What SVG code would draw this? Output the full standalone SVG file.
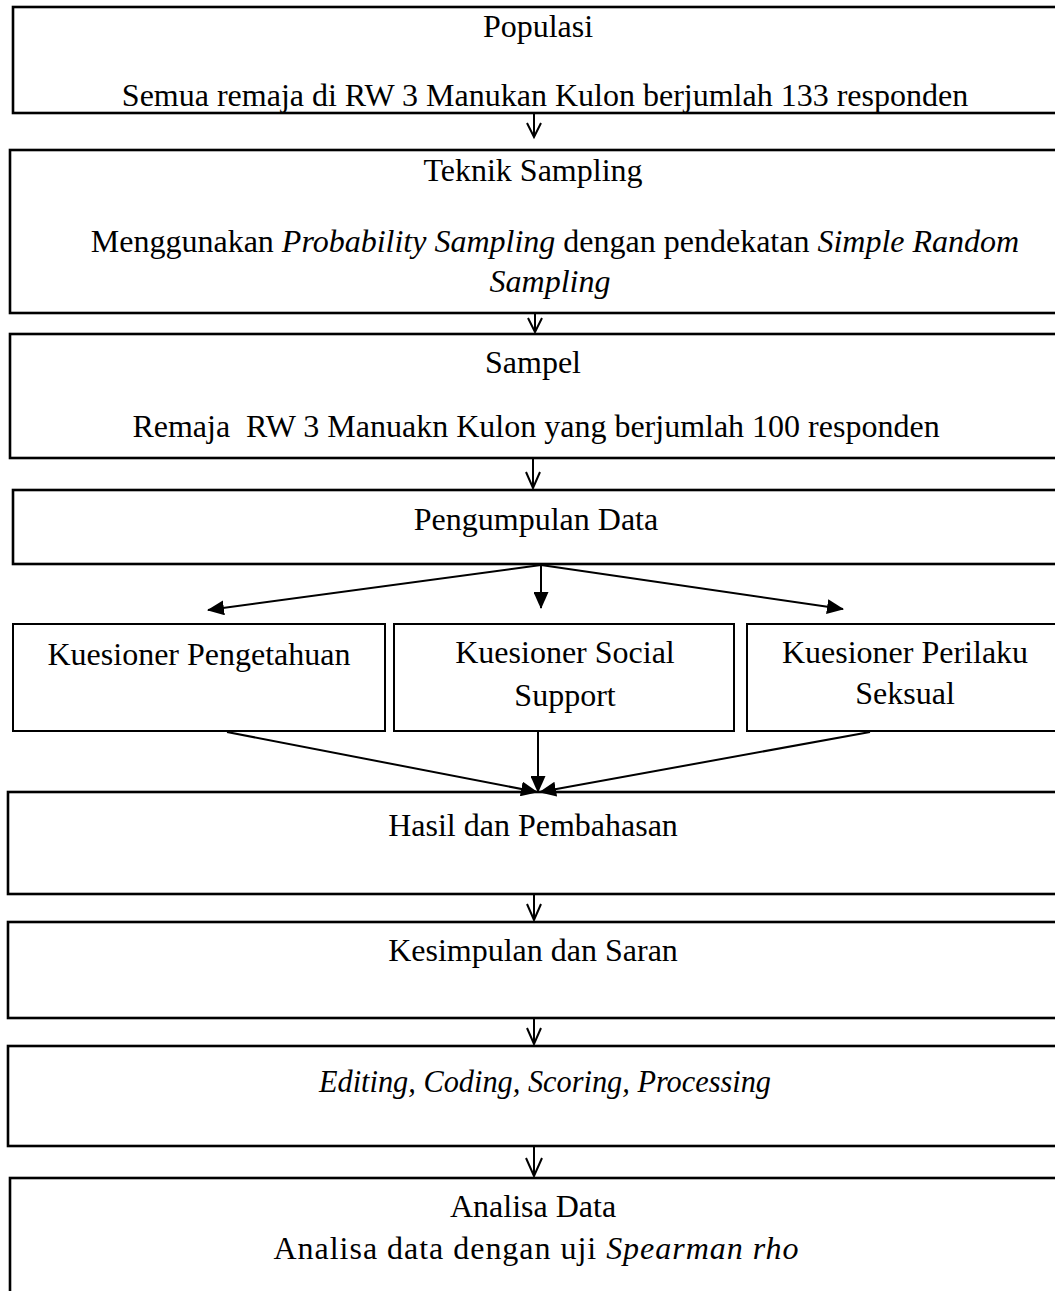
<svg xmlns="http://www.w3.org/2000/svg" width="1055" height="1291" viewBox="0 0 1055 1291">
<style>
.box{fill:#fff;stroke:#000;stroke-width:2.6}
.qbox{fill:#fff;stroke:#000;stroke-width:2}
text{font-family:"Liberation Serif","Times New Roman",serif;font-size:32px;fill:#000;text-anchor:middle;white-space:pre}
.i{font-style:italic}
.c{fill:none;stroke:#000;stroke-width:2}
.v{fill:none;stroke:#000;stroke-width:2}
</style>
<defs>
<marker id="ah" markerUnits="userSpaceOnUse" markerWidth="17" markerHeight="15" refX="16" refY="7.5" orient="auto">
<path d="M0,0 L17,7.5 L0,15 Z" fill="#000"/>
</marker>
</defs>
<rect width="1055" height="1291" fill="#fff"/>
<g id="populasi">
<rect class="box" x="13" y="7" width="1070" height="106"/>
<text x="538" y="37">Populasi</text>
<text x="545" y="106">Semua remaja di RW 3 Manukan Kulon berjumlah 133 responden</text>
</g>
<g id="teknik-sampling">
<rect class="box" x="10" y="150" width="1070" height="163"/>
<text x="533" y="181">Teknik Sampling</text>
<text x="555" y="252">Menggunakan <tspan class="i">Probability Sampling</tspan> dengan pendekatan <tspan class="i">Simple Random</tspan></text>
<text class="i" x="550" y="292">Sampling</text>
</g>
<g id="sampel">
<rect class="box" x="10" y="334" width="1070" height="124"/>
<text x="533" y="373">Sampel</text>
<text x="536" y="437">Remaja  RW 3 Manuakn Kulon yang berjumlah 100 responden</text>
</g>
<g id="pengumpulan-data">
<rect class="box" x="13" y="490" width="1070" height="74"/>
<text x="536" y="530">Pengumpulan Data</text>
</g>
<g id="kuesioner-pengetahuan">
<rect class="qbox" x="13" y="624" width="372" height="107"/>
<text x="199" y="665">Kuesioner Pengetahuan</text>
</g>
<g id="kuesioner-social-support">
<rect class="qbox" x="394" y="624" width="340" height="107"/>
<text x="565" y="663">Kuesioner Social</text>
<text x="565" y="706">Support</text>
</g>
<g id="kuesioner-perilaku-seksual">
<rect class="qbox" x="747" y="624" width="320" height="107"/>
<text x="905" y="663">Kuesioner Perilaku</text>
<text x="905" y="704">Seksual</text>
</g>
<g id="hasil">
<rect class="box" x="8" y="792" width="1070" height="102"/>
<text x="533" y="836">Hasil dan Pembahasan</text>
</g>
<g id="kesimpulan">
<rect class="box" x="8" y="922" width="1070" height="96"/>
<text x="533" y="961">Kesimpulan dan Saran</text>
</g>
<g id="editing">
<rect class="box" x="8" y="1046" width="1070" height="100"/>
<text class="i" x="545" y="1092" textLength="452" lengthAdjust="spacingAndGlyphs">Editing, Coding, Scoring, Processing</text>
</g>
<g id="analisa">
<rect class="box" x="10" y="1178" width="1070" height="130"/>
<text x="533" y="1217">Analisa Data</text>
<text x="536" y="1259" textLength="525">Analisa data dengan uji <tspan class="i">Spearman rho</tspan></text>
</g>
<g id="connectors">
<line class="c" x1="534" y1="114" x2="534" y2="137"/>
<path class="v" d="M527,123 L534,137 L541,123"/>
<line class="c" x1="535" y1="314" x2="535" y2="332"/>
<path class="v" d="M528,318 L535,332 L542,318"/>
<line class="c" x1="533" y1="459" x2="533" y2="488"/>
<path class="v" d="M526,472 L533,488 L540,472"/>
<line class="c" x1="541" y1="565" x2="208" y2="610" marker-end="url(#ah)"/>
<line class="c" x1="541" y1="565" x2="541" y2="608" marker-end="url(#ah)"/>
<line class="c" x1="541" y1="565" x2="843" y2="609" marker-end="url(#ah)"/>
<line class="c" x1="227" y1="732" x2="537" y2="792" marker-end="url(#ah)"/>
<line class="c" x1="538" y1="732" x2="538" y2="792" marker-end="url(#ah)"/>
<line class="c" x1="870" y1="732" x2="540" y2="792" marker-end="url(#ah)"/>
<line class="c" x1="534" y1="895" x2="534" y2="920"/>
<path class="v" d="M527,904 L534,920 L541,904"/>
<line class="c" x1="534" y1="1019" x2="534" y2="1044"/>
<path class="v" d="M527,1028 L534,1044 L541,1028"/>
<line class="c" x1="534" y1="1147" x2="534" y2="1176"/>
<path class="v" d="M526,1158 L534,1176 L542,1158"/>
</g>
</svg>
